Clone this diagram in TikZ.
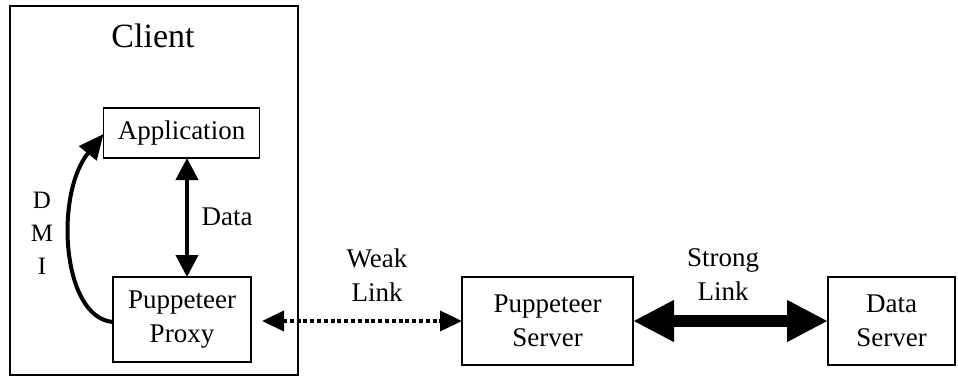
\documentclass[tikz,border=0pt]{standalone}
\usepackage{fontspec}
\setmainfont{Liberation Serif}
\usetikzlibrary{arrows.meta}

\tikzset{
  box/.style={draw, line width=1.3pt, inner sep=0pt, outer sep=0pt, align=center,
              font=\fontsize{27}{34}\selectfont},
  lbl/.style={inner sep=0pt, align=center, font=\fontsize{27}{34}\selectfont},
  dataarrow/.style={line width=4pt, {Triangle[length=22pt,width=22pt]}-{Triangle[length=22pt,width=22pt]}},
  dmiarrow/.style={line width=4pt, -{Triangle[length=25pt,width=22pt]}},
  weakarrow/.style={line width=3.8pt, dash pattern=on 4pt off 2.8pt,
                    {Triangle[length=22pt,width=20pt]}-{Triangle[length=22pt,width=20pt]}},
  strongarrow/.style={line width=12pt, {Triangle[length=41pt,width=39pt]}-{Triangle[length=41pt,width=39pt]}}
}

\begin{document}
\begin{tikzpicture}[x=1pt, y=-1pt]
  \useasboundingbox (0,0) rectangle (958,377);

  % client frame and title
  \node[draw, line width=1.3pt, inner sep=0pt, minimum width=288pt, minimum height=369pt]
       (client) at (154,190.5) {};
  \node[lbl, font=\fontsize{34}{40}\selectfont] (clienttitle) at (153,36) {Client};

  % boxes
  \node[box, minimum width=156pt, minimum height=50pt] (app) at (181.5,133) {Application};
  \node[box, minimum width=138pt, minimum height=85pt] (proxy) at (182,319.5) {Puppeteer\\Proxy};
  \node[box, minimum width=171pt, minimum height=88pt] (server) at (547.5,321) {Puppeteer\\Server};
  \node[box, minimum width=127pt, minimum height=88pt] (dserver) at (891.5,321) {Data\\Server};

  % labels
  \node[lbl] (datalbl) at (227,217) {Data};
  \node[lbl, font=\fontsize{25}{33}\selectfont] (dmilbl) at (42,233) {D\\M\\I};
  \node[lbl] (weaklbl) at (377,275) {Weak\\Link};
  \node[lbl] (stronglbl) at (723,275) {Strong\\Link};

  % connectors
  \coordinate (dx) at (187,0);
  \draw[dataarrow] (app.south -| dx) -- (proxy.north -| dx);
  \draw[dmiarrow] (proxy.west |- 0,322) .. controls (62,318) and (54,195) .. (app.west |- 0,134);
  \coordinate (weakstart) at ([xshift=11pt]proxy.east |- server.west);
  \draw[weakarrow] (weakstart) -- (server.west);
  \draw[strongarrow] (server.east) -- (dserver.west);
\end{tikzpicture}
\end{document}
